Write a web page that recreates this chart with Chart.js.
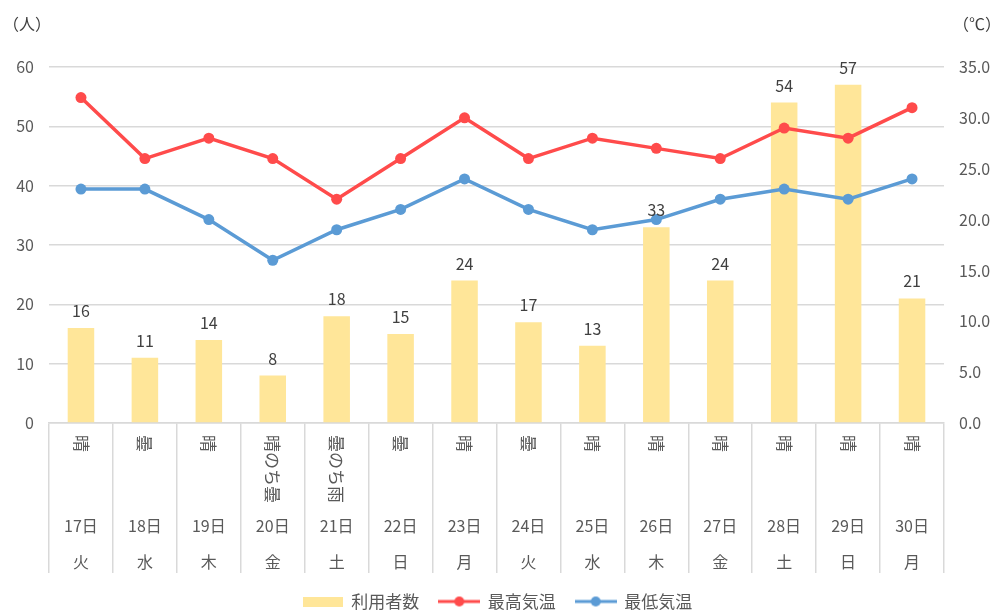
<!DOCTYPE html>
<html>
<head>
<meta charset="utf-8">
<script src="https://cdn.jsdelivr.net/npm/chart.js@4/dist/chart.umd.min.js"></script>
<style>
html,body{margin:0;padding:0;background:#fff;}
#wrap{width:995px;height:610px;position:relative;}
</style>
</head>
<body>
<div id="wrap"><canvas id="c" width="995" height="610"></canvas></div>
<script>
const days = ['17日','18日','19日','20日','21日','22日','23日','24日','25日','26日','27日','28日','29日','30日'];
const weekdays = ['火','水','木','金','土','日','月','火','水','木','金','土','日','月'];
const weather = ['晴','曇','晴','晴のち曇','曇のち雨','曇','晴','曇','晴','晴','晴','晴','晴','晴'];
const users = [16, 11, 14, 8, 18, 15, 24, 17, 13, 33, 24, 54, 57, 21];
const maxTemp = [32, 26, 28, 26, 22, 26, 30, 26, 28, 27, 26, 29, 28, 31];
const minTemp = [23, 23, 20, 16, 19, 21, 24, 21, 19, 20, 22, 23, 22, 24];
const leftTicks = [0, 10, 20, 30, 40, 50, 60];
const rightTicks = [0, 5, 10, 15, 20, 25, 30, 35];

const FONT = '"Noto Sans CJK JP", "Noto Sans", sans-serif';
const TXT = '#595959';
const GRID = '#d9d9d9';
const BAR = '#FFE699';
const RED = '#FF4B4B';
const BLUE = '#5B9BD5';

function lineIcon(color) {
  const c = document.createElement('canvas');
  c.width = 42; c.height = 12;
  const x = c.getContext('2d');
  x.strokeStyle = color; x.lineWidth = 3;
  x.beginPath(); x.moveTo(0, 6); x.lineTo(42, 6); x.stroke();
  x.fillStyle = color;
  x.beginPath(); x.arc(21, 6, 5, 0, Math.PI * 2); x.fill();
  return c;
}
function rectIcon(color) {
  const c = document.createElement('canvas');
  c.width = 40; c.height = 10;
  const x = c.getContext('2d');
  x.fillStyle = color; x.fillRect(0, 0, 40, 10);
  return c;
}

const extras = {
  id: 'extras',
  afterDatasetsDraw(chart) {
    const ctx = chart.ctx;
    const xs = chart.scales.x;
    const yl = chart.scales.y;
    const yr = chart.scales.y1;
    ctx.save();
    // bar value labels
    ctx.font = '16px ' + FONT;
    ctx.fillStyle = '#404040';
    ctx.textAlign = 'center';
    ctx.textBaseline = 'bottom';
    const meta = chart.getDatasetMeta(0);
    meta.data.forEach((bar, i) => {
      const p = bar.getProps(['x', 'y'], true);
      ctx.fillText(String(users[i]), p.x, p.y - 9);
    });
    // x labels
    ctx.fillStyle = TXT;
    const top = xs.top;
    days.forEach((d, i) => {
      const x = xs.getPixelForValue(i);
      ctx.save();
      ctx.font = '17px ' + FONT;
      ctx.translate(x, top + 12);
      ctx.rotate(Math.PI / 2);
      ctx.textAlign = 'left';
      ctx.textBaseline = 'middle';
      ctx.fillText(weather[i], 0, 0);
      ctx.restore();
      ctx.font = '16px ' + FONT;
      ctx.textAlign = 'center';
      ctx.textBaseline = 'middle';
      ctx.fillText(d, x, top + 103);
      ctx.fillText(weekdays[i], x, top + 139);
    });
    // axis unit labels
    ctx.font = '16px ' + FONT;
    ctx.fillStyle = '#404040';
    ctx.textBaseline = 'middle';
    ctx.textAlign = 'left';
    ctx.fillText('（人）', yl.left + 3, 24);
    ctx.textAlign = 'right';
    ctx.fillText('（℃）', yr.right + 6, 24);
    ctx.restore();
  }
};

new Chart(document.getElementById('c'), {
  data: {
    labels: days,
    datasets: [
      {
        type: 'bar', label: '利用者数', data: users, yAxisID: 'y',
        backgroundColor: BAR, barPercentage: 0.415, categoryPercentage: 1, order: 2
      },
      {
        type: 'line', label: '最高気温', data: maxTemp, yAxisID: 'y1',
        borderColor: RED, backgroundColor: RED, borderWidth: 3.5,
        pointRadius: 5.5, pointHoverRadius: 5.5, pointBackgroundColor: RED, pointBorderWidth: 0,
        tension: 0, order: 1
      },
      {
        type: 'line', label: '最低気温', data: minTemp, yAxisID: 'y1',
        borderColor: BLUE, backgroundColor: BLUE, borderWidth: 3.5,
        pointRadius: 5.5, pointHoverRadius: 5.5, pointBackgroundColor: BLUE, pointBorderWidth: 0,
        tension: 0, order: 0
      }
    ]
  },
  options: {
    responsive: false,
    animation: false,
    events: [],
    layout: { padding: { top: 67, left: 0, right: 0, bottom: -10 } },
    plugins: {
      tooltip: { enabled: false },
      legend: {
        position: 'bottom',
        labels: {
          usePointStyle: true,
          pointStyleWidth: 40,
          padding: 20,
          color: TXT,
          font: { family: FONT, size: 17 },
          generateLabels(chart) {
            const icons = [rectIcon(BAR), lineIcon(RED), lineIcon(BLUE)];
            return chart.data.datasets.map((ds, i) => ({
              text: ds.label, pointStyle: icons[i], fillStyle: ds.backgroundColor,
              strokeStyle: ds.borderColor, lineWidth: 0, hidden: false, datasetIndex: i, fontColor: TXT
            }));
          }
        }
      }
    },
    scales: {
      x: {
        type: 'category',
        offset: true,
        grid: { offset: true, drawOnChartArea: false, drawTicks: true, tickLength: 150, color: GRID, lineWidth: 1.5 },
        border: { display: true, color: GRID, width: 1.5 },
        ticks: { display: false },
        afterFit(s) { s.height = 150; }
      },
      y: {
        position: 'left',
        min: 0, max: 60,
        afterBuildTicks(s) { s.ticks = leftTicks.map(v => ({ value: v })); },
        ticks: { padding: 15, color: TXT, font: { family: FONT, size: 16 }, callback: v => String(v) },
        grid: { color: GRID, lineWidth: 1.5, drawTicks: false },
        border: { display: false },
        afterFit(s) { s.width = 49; }
      },
      y1: {
        position: 'right',
        min: 0, max: 35,
        afterBuildTicks(s) { s.ticks = rightTicks.map(v => ({ value: v })); },
        ticks: { padding: 15, color: TXT, font: { family: FONT, size: 16 }, callback: v => Number(v).toFixed(1) },
        grid: { drawOnChartArea: false, drawTicks: false },
        border: { display: false },
        afterFit(s) { s.width = 51; }
      }
    }
  },
  plugins: [extras]
});
</script>
</body>
</html>
